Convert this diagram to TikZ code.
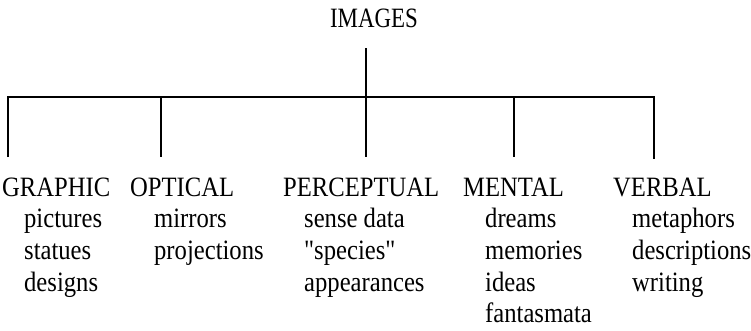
\documentclass[tikz,border=0pt]{standalone}
\usepackage{fontspec}
\setmainfont{Liberation Serif}
\begin{document}
\begin{tikzpicture}[x=1pt,y=-1pt,
  lbl/.style={anchor=base west,inner sep=0pt,xscale=0.88,font=\fontsize{28}{33}\selectfont},
  conn/.style={line width=1.4pt,black}]
\useasboundingbox (0,0) rectangle (751,330);
% title
\node[lbl,anchor=base,xscale=0.93] (images) at (374,27) {IMAGES};
% headings
\node[lbl] (graphic) at (2,196) {GRAPHIC};
\node[lbl] (optical) at (130,196) {OPTICAL};
\node[lbl] (perceptual) at (283,196) {PERCEPTUAL};
\node[lbl] (mental) at (463,196) {MENTAL};
\node[lbl] (verbal) at (613,196) {VERBAL};
% items
\node[lbl] (g1) at (24,227) {pictures};
\node[lbl] (g2) at (24,259) {statues};
\node[lbl] (g3) at (24,291) {designs};
\node[lbl] (o1) at (154,227) {mirrors};
\node[lbl] (o2) at (154,259) {projections};
\node[lbl] (p1) at (304,227) {sense data};
\node[lbl] (p2) at (304,259) {\textquotedbl species\textquotedbl};
\node[lbl] (p3) at (304,291) {appearances};
\node[lbl] (m1) at (485,227) {dreams};
\node[lbl] (m2) at (485,259) {memories};
\node[lbl] (m3) at (485,291) {ideas};
\node[lbl] (m4) at (485,322) {fantasmata};
\node[lbl] (v1) at (632,227) {metaphors};
\node[lbl] (v2) at (632,259) {descriptions};
\node[lbl] (v3) at (632,291) {writing};
% connector coordinates
\coordinate (top) at (366,48);
\coordinate (barL) at (8,97);
\coordinate (barO) at (161,97);
\coordinate (barC) at (366,97);
\coordinate (barM) at (514,97);
\coordinate (barR) at (654,97);
\coordinate (tG) at (8,157);
\coordinate (tO) at (161,157);
\coordinate (tP) at (366,157);
\coordinate (tM) at (514,157);
\coordinate (tV) at (654,159);
% connectors
\draw[conn] (top) -- (tP);
\draw[conn] (tG) -- (barL) -- (barR) -- (tV);
\draw[conn] (barO) -- (tO);
\draw[conn] (barM) -- (tM);
\end{tikzpicture}
\end{document}
